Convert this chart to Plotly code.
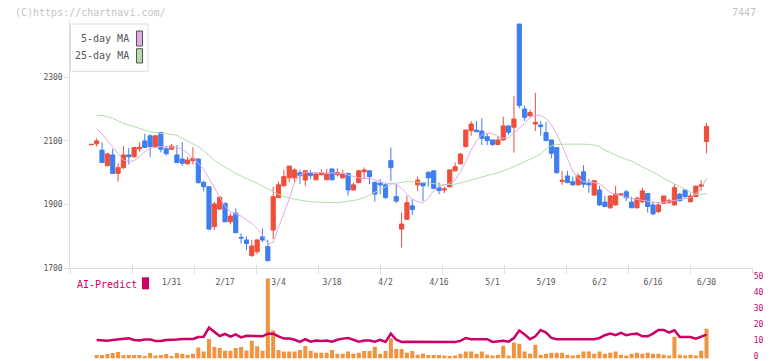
import plotly.graph_objects as go
import pandas as pd

W, H = 772, 361

# ---- categories: trading days (JP market) ----
holidays = ["2025-01-13", "2025-02-11", "2025-02-24", "2025-03-20",
            "2025-04-29", "2025-05-05", "2025-05-06"]
days = [d for d in pd.bdate_range("2025-01-09", "2025-06-30")
        if d.strftime("%Y-%m-%d") not in holidays]
dates = [f"{d.month}/{d.day}" for d in days]
tick_labels = ["1/31", "2/17", "3/4", "3/18", "4/2", "4/16", "5/1",
               "5/19", "6/2", "6/16", "6/30"]

# ---- price data ----
open_ = [2088, 2091, 2071, 2022, 2056, 1998, 2016, 2056, 2050, 2075,
         2100, 2116, 2082, 2126, 2075, 2074, 2056, 2043, 2028, 2038,
         2043, 1970, 1956, 1831, 1886, 1904, 1846, 1873, 1797, 1789,
         1740, 1752, 1799, 1768, 1820, 1922, 1959, 1984, 1984, 2000,
         1977, 2000, 1978, 1994, 1978, 2012, 1994, 1984, 1998, 1946,
         1969, 2003, 2006, 1970, 1967, 1962, 2038, 1925, 1823, 1854,
         1896, 1962, 1969, 2001, 2006, 1953, 1946, 1956, 2006, 2028,
         2082, 2132, 2134, 2131, 2113, 2103, 2089, 2103, 2147, 2143,
         2467, 2200, 2179, 2153, 2150, 2126, 2103, 2079, 1973, 1990,
         1972, 1962, 2003, 1967, 1930, 1946, 1908, 1890, 1899, 1930,
         1940, 1908, 1890, 1909, 1935, 1899, 1878, 1904, 1907, 1899,
         1933, 1946, 1909, 1925, 1957, 2098]
high = [2088, 2108, 2096, 2063, 2075, 2030, 2084, 2077, 2081, 2096,
        2122, 2120, 2118, 2126, 2084, 2090, 2087, 2096, 2050, 2080,
        2046, 1975, 1957, 1909, 1927, 1906, 1873, 1888, 1810, 1800,
        1789, 1792, 1825, 1789, 1956, 1972, 2009, 2021, 2014, 2009,
        2008, 2009, 2001, 2011, 2012, 2013, 2014, 2009, 2000, 1969,
        2009, 2017, 2008, 1972, 1980, 1967, 2079, 1964, 1875, 1928,
        1917, 1988, 1971, 2006, 2007, 1970, 1956, 2010, 2032, 2061,
        2136, 2162, 2162, 2171, 2122, 2104, 2116, 2176, 2149, 2241,
        2467, 2211, 2198, 2251, 2162, 2160, 2104, 2080, 2006, 2006,
        1988, 1998, 2024, 1980, 1978, 1959, 1927, 1930, 1959, 1936,
        1946, 1925, 1925, 1953, 1936, 1909, 1908, 1928, 1918, 1964,
        1937, 1947, 1935, 1960, 1977, 2157]
low = [2088, 2082, 2032, 2022, 1998, 1972, 2012, 2026, 2048, 2066,
       2079, 2050, 2080, 2064, 2054, 2072, 2030, 2022, 2026, 2026,
       1966, 1941, 1820, 1820, 1883, 1846, 1838, 1810, 1778, 1757,
       1736, 1745, 1782, 1722, 1792, 1920, 1957, 1970, 1969, 1965,
       1959, 1980, 1978, 1992, 1978, 1976, 1988, 1982, 1928, 1944,
       1967, 1980, 1964, 1909, 1933, 1918, 1974, 1904, 1765, 1852,
       1867, 1943, 1911, 1956, 1950, 1933, 1936, 1954, 2004, 2026,
       2080, 2116, 2127, 2087, 2087, 2084, 2087, 2101, 2119, 2063,
       2202, 2162, 2174, 2131, 2116, 2099, 2045, 1998, 1962, 1967,
       1959, 1960, 1953, 1937, 1928, 1896, 1892, 1887, 1897, 1928,
       1911, 1890, 1888, 1904, 1875, 1867, 1873, 1903, 1902, 1896,
       1910, 1922, 1907, 1923, 1944, 2061]
close = [2089, 2100, 2032, 2059, 1998, 2016, 2056, 2050, 2079, 2080,
         2079, 2082, 2116, 2074, 2060, 2084, 2032, 2030, 2040, 2045,
         1969, 1956, 1823, 1902, 1923, 1846, 1864, 1812, 1795, 1778,
         1770, 1789, 1789, 1724, 1925, 1962, 1988, 2021, 2009, 1991,
         2006, 1991, 1996, 2000, 1996, 1978, 2001, 1996, 1946, 1962,
         2006, 2009, 1988, 1933, 1962, 1922, 2016, 1911, 1839, 1906,
         1885, 1977, 1959, 1984, 1951, 1944, 1949, 2009, 2019, 2059,
         2134, 2153, 2129, 2108, 2101, 2089, 2103, 2147, 2127, 2169,
         2211, 2174, 2189, 2158, 2145, 2101, 2061, 2000, 1976, 1969,
         1962, 1990, 1964, 1962, 1975, 1899, 1894, 1927, 1933, 1933,
         1921, 1890, 1920, 1943, 1894, 1871, 1899, 1927, 1912, 1953,
         1912, 1925, 1927, 1958, 1962, 2145]

ma5 = [None, 2138, 2122, 2101, 2080, 2061, 2040, 2035, 2038, 2050,
       2066, 2077, 2080, 2082, 2082, 2082, 2080, 2074, 2061, 2045,
       2030, 2011, 1982, 1951, 1923, 1894, 1878, 1871, 1864, 1852,
       1841, 1825, 1805, 1776, 1782, 1828, 1872, 1918, 1970, 1993,
       2001, 2001, 2000, 2000, 2000, 2000, 1998, 1998, 1993, 1988,
       1984, 1982, 1982, 1978, 1972, 1967, 1967, 1964, 1951, 1935,
       1917, 1909, 1906, 1920, 1944, 1956, 1962, 1967, 1976, 2003,
       2035, 2071, 2100, 2119, 2124, 2124, 2113, 2108, 2110, 2124,
       2140, 2155, 2173, 2181, 2180, 2170, 2150, 2122, 2085, 2045,
       2005, 1982, 1972, 1973, 1970, 1965, 1952, 1938, 1931, 1928,
       1922, 1919, 1917, 1914, 1910, 1906, 1905, 1907, 1910, 1912,
       1914, 1917, 1922, 1933, 1952, 1982]
ma25 = [None, 2181, 2180, 2176, 2171, 2163, 2155, 2150, 2144, 2139,
        2134, 2129, 2125, 2123, 2122, 2121, 2118, 2108, 2100, 2092,
        2082, 2069, 2053, 2040, 2028, 2017, 2009, 1998, 1990, 1981,
        1974, 1967, 1958, 1950, 1941, 1932, 1925, 1920, 1917, 1914,
        1911, 1909, 1908, 1907, 1906, 1906, 1906, 1908, 1911, 1914,
        1916, 1922, 1930, 1938, 1948, 1956, 1964, 1967, 1970, 1972,
        1972, 1971, 1969, 1967, 1966, 1964, 1963, 1963, 1964, 1967,
        1972, 1977, 1982, 1988, 1993, 1996, 2000, 2005, 2012, 2019,
        2028, 2035, 2042, 2051, 2059, 2075, 2085, 2089, 2090, 2090,
        2090, 2090, 2090, 2089, 2087, 2082, 2071, 2063, 2055, 2048,
        2042, 2037, 2027, 2019, 2011, 2003, 1993, 1982, 1974, 1965,
        1956, 1948, 1939, 1932, 1932, 1935]

# ---- AI-Predict panel ----
ai_bars = [None, 2.2, 2.2, 2.8, 3.4, 4.1, 2.0, 2.2, 2.2, 2.2,
           1.6, 3.4, 1.8, 2.2, 2.8, 1.6, 3.4, 3.0, 2.4, 3.0,
           6.8, 4.3, 12.2, 7.2, 6.6, 4.8, 4.8, 6.6, 7.2, 5.0,
           11.0, 7.6, 4.9, 50.0, 17.4, 5.3, 4.3, 4.3, 4.3, 5.3,
           7.8, 4.9, 3.6, 3.6, 3.6, 5.3, 3.0, 3.0, 4.3, 3.0,
           3.6, 4.7, 4.7, 7.4, 3.0, 4.7, 12.4, 5.9, 5.9, 3.6,
           4.7, 2.4, 3.0, 2.2, 2.2, 2.2, 1.8, 1.6, 1.8, 3.0,
           4.3, 4.3, 3.0, 4.3, 2.4, 1.8, 2.4, 8.0, 1.8, 9.9,
           9.2, 4.3, 3.0, 8.6, 2.4, 3.0, 3.6, 3.6, 3.6, 2.4,
           1.8, 2.4, 4.3, 4.3, 3.0, 4.3, 3.0, 3.6, 4.3, 2.4,
           1.8, 3.0, 3.6, 3.0, 3.6, 3.0, 3.0, 2.4, 1.8, 13.6,
           2.4, 1.8, 2.4, 1.8, 4.9, 18.6]
ai_line = [None, 11.5, 11.1, 11.1, 11.5, 11.9, 11.9, 12.6, 11.5, 11.3,
           11.9, 11.9, 10.9, 10.9, 11.5, 11.5, 11.9, 12.2, 12.2, 12.2,
           13.4, 13.6, 19.2, 16.7, 14.0, 15.3, 13.6, 15.0, 13.2, 14.2,
           14.0, 13.8, 13.8, 15.5, 15.5, 13.8, 12.4, 12.4, 11.7, 10.3,
           12.0, 10.5, 11.2, 10.9, 11.2, 10.5, 11.7, 12.4, 12.8, 11.7,
           10.5, 11.2, 11.2, 10.5, 11.7, 10.3, 15.5, 11.7, 10.3, 10.5,
           10.5, 10.5, 10.5, 10.3, 10.3, 10.3, 10.3, 10.3, 10.3, 11.0,
           12.8, 12.0, 12.0, 12.0, 12.0, 10.3, 10.5, 11.0, 10.5, 12.8,
           17.4, 15.0, 12.0, 13.8, 17.8, 16.2, 12.8, 12.0, 12.0, 12.0,
           12.0, 12.0, 12.0, 12.0, 12.0, 12.8, 14.5, 15.5, 14.5, 16.0,
           14.5, 15.2, 15.5, 13.8, 13.8, 15.5, 17.8, 17.8, 16.2, 17.6,
           13.4, 13.4, 13.4, 12.4, 13.8, 14.9]

x = list(range(len(dates)))

RED = "#ef4e3a"
BLUE = "#3e7ef0"
PINK = "#e4aae6"
GREEN = "#b6dcaa"
MAG = "#cc0066"
ORANGE = "#f0943f"
AXC = "#dddddd"
TXT = "#555555"
FONT = "DejaVu Sans Mono"


def px(v):
    return v / W


def py(v):
    return 1 - v / H


fig = go.Figure()
fig.add_trace(go.Scatter(x=x, y=ma25, mode="lines", line=dict(color=GREEN, width=1),
                         showlegend=False, hoverinfo="skip", xaxis="x", yaxis="y"))
fig.add_trace(go.Scatter(x=x, y=ma5, mode="lines", line=dict(color=PINK, width=1),
                         showlegend=False, hoverinfo="skip", xaxis="x", yaxis="y"))
fig.add_trace(go.Candlestick(
    x=x, open=open_, high=high, low=low, close=close,
    increasing=dict(line=dict(color=RED, width=1), fillcolor=RED),
    decreasing=dict(line=dict(color=BLUE, width=1), fillcolor=BLUE),
    whiskerwidth=0, showlegend=False, xaxis="x", yaxis="y"))
fig.add_trace(go.Bar(x=x, y=ai_bars, marker=dict(color=ORANGE, line=dict(width=0)),
                     width=0.75, showlegend=False, xaxis="x2", yaxis="y2"))
fig.add_trace(go.Scatter(x=x, y=ai_line, mode="lines", line=dict(color=MAG, width=2.5),
                         showlegend=False, xaxis="x2", yaxis="y2"))

xr = [-3.925, 123.63]
grid = [xr[0] + k * (xr[1] - xr[0]) / 11 for k in range(12)]
xdom = [px(70.3), px(752.7)]

fig.update_layout(
    width=W, height=H,
    margin=dict(l=0, r=0, t=0, b=0, autoexpand=False),
    paper_bgcolor="white", plot_bgcolor="white",
    boxgap=0.22, boxgroupgap=0,
    font=dict(family=FONT, color=TXT, size=8),
    showlegend=False,
    xaxis=dict(domain=xdom, range=xr, anchor="y", showline=True, linecolor=AXC, linewidth=1,
               tickmode="array", tickvals=grid, ticks="inside", ticklen=3, tickcolor=AXC,
               showticklabels=False, showgrid=False, zeroline=False, automargin=False,
               rangeslider=dict(visible=False)),
    xaxis2=dict(domain=xdom, range=xr, anchor="free", position=py(268.3),
                tickmode="array", tickvals=grid, ticks="outside", ticklen=5, tickcolor=AXC,
                showticklabels=False, showline=False, showgrid=False, zeroline=False,
                automargin=False),
    xaxis3=dict(overlaying="x", anchor="y", range=xr, showline=False, showgrid=False,
                zeroline=False, ticks="", tickmode="array", automargin=False,
                tickvals=[dates.index(t) for t in tick_labels], ticktext=tick_labels,
                tickfont=dict(family=FONT, size=8, color=TXT), ticklabelstandoff=8),
    yaxis=dict(domain=[py(268.3), py(20)], range=[1700, 2479.6], anchor="x",
               showline=True, linecolor=AXC, linewidth=1, automargin=False,
               tickmode="array", tickvals=[1700, 1900, 2100, 2300],
               ticks="outside", ticklen=5, tickcolor=AXC,
               tickfont=dict(family=FONT, size=8, color=TXT),
               showgrid=False, zeroline=False),
    yaxis2=dict(domain=[py(358.5), py(278.3)], range=[0, 50], anchor="x2", side="right",
                tickmode="array", tickvals=[0, 10, 20, 30, 40, 50], ticks="",
                tickfont=dict(family=FONT, size=8, color=MAG), automargin=False,
                ticklabeloverflow="allow", ticklabelshift=-2,
                showline=False, showgrid=False, zeroline=False),
)

# invisible point to activate xaxis3 labels
fig.add_trace(go.Scatter(x=[xr[0]], y=[1700], mode="markers", marker=dict(opacity=0),
                         showlegend=False, hoverinfo="skip", xaxis="x3", yaxis="y"))

shapes = [
    dict(type="rect", xref="paper", yref="paper", x0=px(70.5), x1=px(148), y0=py(71.3), y1=py(24),
         line=dict(color=AXC, width=1), fillcolor="white", layer="above"),
    dict(type="rect", xref="paper", yref="paper", x0=px(136.5), x1=px(142.5), y0=py(46), y1=py(31),
         line=dict(color=TXT, width=1), fillcolor=PINK, layer="above"),
    dict(type="rect", xref="paper", yref="paper", x0=px(136.5), x1=px(142.5), y0=py(63), y1=py(48.7),
         line=dict(color=TXT, width=1), fillcolor=GREEN, layer="above"),
    dict(type="rect", xref="paper", yref="paper", x0=px(142), x1=px(149), y0=py(289.3), y1=py(277.3),
         line=dict(width=0), fillcolor=MAG, layer="above"),
]
fig.update_layout(shapes=shapes)

ann = [
    dict(text="(C)https://chartnavi.com/", x=px(13), y=py(12), xanchor="left", yanchor="middle",
         font=dict(family=FONT, size=10, color="#c4c4c4")),
    dict(text="7447", x=px(758), y=py(12), xanchor="right", yanchor="middle",
         font=dict(family=FONT, size=10, color="#c4c4c4")),
    dict(text="5-day MA", x=px(131), y=py(39), xanchor="right", yanchor="middle",
         font=dict(family=FONT, size=10, color=TXT)),
    dict(text="25-day MA", x=px(131), y=py(56), xanchor="right", yanchor="middle",
         font=dict(family=FONT, size=10, color=TXT)),
    dict(text="AI-Predict", x=px(75), y=py(284), xanchor="left", yanchor="middle",
         font=dict(family=FONT, size=10, color=MAG)),
]
for a in ann:
    a.update(xref="paper", yref="paper", showarrow=False)
fig.update_layout(annotations=ann)

fig.write_html("out.html", config={"displayModeBar": False, "staticPlot": True},
               post_script="document.body.style.margin='0px';document.body.style.overflow='hidden';")
